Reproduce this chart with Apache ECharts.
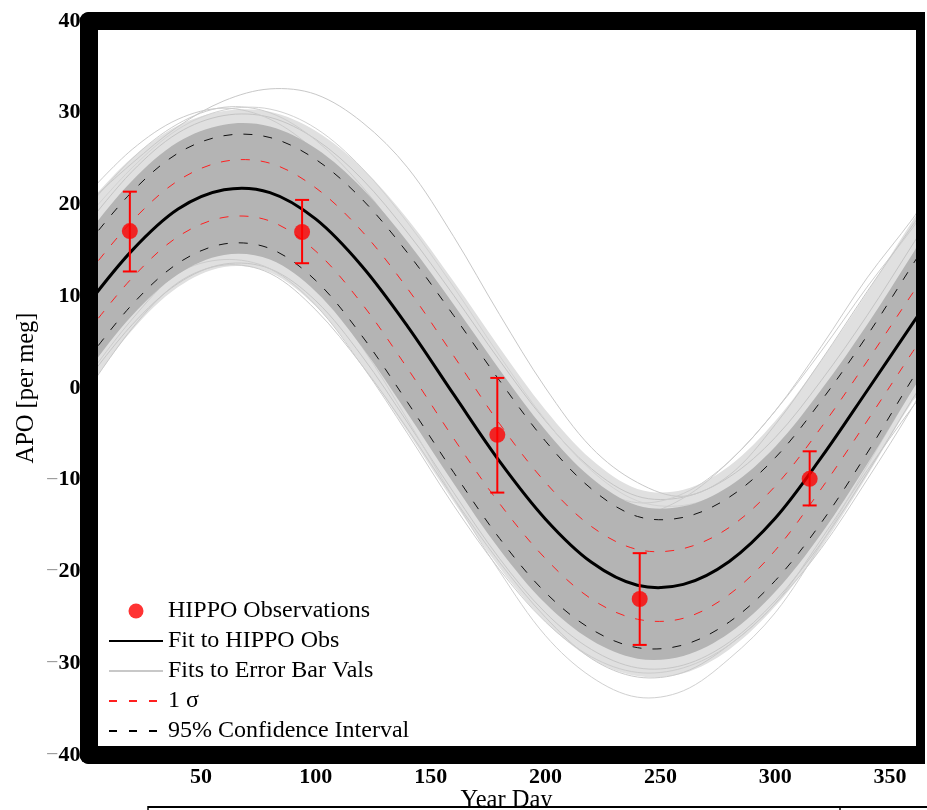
<!DOCTYPE html>
<html><head><meta charset="utf-8">
<script src="https://cdn.jsdelivr.net/npm/echarts@6/dist/echarts.min.js"></script>
<style>html,body{margin:0;padding:0;background:#fff}#c{width:927px;height:810px}</style>
</head><body><div id="c"></div>
<script>
// ---- data ----
const days = [0,20,40,60,80,100,120,140,160,180,200,220,240,260,280,300,320,340,360,365];
const fitHippo   = [8.9,15.0,19.5,21.6,21.3,18.4,13.3,6.7,-0.7,-8.0,-14.3,-19.0,-21.5,-21.4,-18.9,-14.2,-7.6,-0.3,7.1,8.9];
const sigmaUpper = [12.2,18.2,22.6,24.7,24.5,21.8,17.1,10.8,3.5,-3.9,-10.3,-15.1,-17.6,-17.5,-15.2,-10.7,-4.3,2.9,10.4,12.2];
const sigmaLower = [5.9,12.0,16.5,18.6,18.2,14.9,9.2,2.1,-5.5,-12.6,-18.6,-23.0,-25.2,-25.1,-22.5,-17.7,-11.0,-3.6,4.0,5.9];
const ci95Upper  = [15.5,21.4,25.6,27.5,27.3,24.9,20.6,14.7,7.9,0.8,-5.8,-11.0,-14.0,-14.1,-11.9,-7.6,-1.4,5.7,13.5,15.5];
const ci95Lower  = [2.9,9.1,13.6,15.7,15.2,11.7,5.7,-1.6,-9.2,-16.4,-22.3,-26.3,-28.3,-28.0,-25.5,-21.0,-14.7,-7.1,1.1,2.9];
const bandUpper  = [16.7,22.6,26.8,28.7,28.5,26.1,21.8,15.9,9.1,2.0,-4.6,-9.8,-12.8,-12.9,-10.7,-6.4,-0.2,6.9,14.7,16.7];
const bandLower  = [1.7,7.9,12.4,14.5,14.0,10.5,4.5,-2.8,-10.4,-17.6,-23.5,-27.5,-29.5,-29.2,-26.7,-22.2,-15.9,-8.3,-0.1,1.7];
const fringeUpper = [20.0,25.1,28.6,30.2,30.1,28.0,24.0,18.4,11.6,4.4,-2.4,-7.8,-11.0,-11.1,-8.5,-3.6,3.0,10.4,18.3,20.0];
const fringeLower = [-0.3,6.3,11.0,13.2,12.6,8.9,2.6,-4.8,-12.4,-19.6,-25.5,-29.5,-31.4,-31.1,-28.5,-23.8,-17.4,-9.6,-1.4,-0.3];
const errorBarFits = [
  [17.7,23.6,27.8,29.7,29.5,27.1,22.8,16.9,10.1,3.0,-3.6,-8.8,-11.8,-11.9,-9.7,-5.4,0.8,7.9,15.7,17.7],
  [19.5,25.0,28.8,30.6,30.0,27.0,22.0,15.5,8.0,0.5,-6.0,-10.5,-12.5,-11.5,-8.0,-2.5,4.0,11.0,17.5,19.5],
  [20.0,24.5,28.5,31.3,32.6,32.0,29.0,24.0,16.5,8.0,0.0,-6.5,-10.3,-11.8,-9.5,-4.0,3.0,10.5,17.8,19.5],
  [18.5,24.0,28.2,30.3,30.4,28.3,24.0,18.0,11.0,3.5,-3.5,-9.0,-12.3,-12.8,-11.0,-7.0,-1.0,6.5,14.5,18.0],
  [21.0,26.0,29.3,30.5,29.3,25.8,20.5,13.5,5.5,-2.0,-8.5,-12.5,-13.8,-12.0,-8.0,-2.5,4.5,12.0,18.5,20.5],
  [0.7,6.9,11.4,13.5,13.0,9.5,3.5,-3.8,-11.4,-18.6,-24.5,-28.5,-30.5,-30.2,-27.7,-23.2,-16.9,-9.3,-1.1,0.7],
  [-0.5,6.5,11.5,13.4,12.5,8.5,2.5,-4.5,-12.0,-19.0,-25.0,-29.5,-31.5,-31.0,-28.0,-23.5,-16.5,-9.0,-2.0,-0.5],
  [2.0,9.0,14.0,16.0,15.0,11.0,4.5,-3.5,-12.0,-20.0,-27.0,-31.5,-33.7,-33.0,-29.5,-24.5,-17.0,-8.5,0.0,2.0],
  [1.0,7.5,12.5,14.0,13.0,9.0,2.5,-5.0,-12.8,-19.8,-25.5,-29.3,-31.0,-30.5,-28.0,-23.5,-17.5,-10.0,-2.0,0.5]
];
const obsDay   = [19, 94, 179, 241, 315];
const obsValue = [17.1, 17.0, -5.1, -23.0, -9.9];
const obsLow   = [12.7, 13.6, -11.4, -28.0, -12.8];
const obsHigh  = [21.4, 20.5, 1.1, -18.0, -6.9];
const xTicks = [50,100,150,200,250,300,350];
const yTicks = [-40,-30,-20,-10,0,10,20,30,40];

// ---- styles ----
const FONT = '"Liberation Serif","Times New Roman",serif';
const SMOOTH = 0.34;
const fringeColors = ['#c4c4c4','#cdcdcd','#c8c8c8','#d2d2d2','#cbcbcb','#c6c6c6','#c9c9c9','#d0d0d0','#cccccc'];
const RED = '#ff2020';

// custom series drawing smooth curves through the library's coordinate system
function curveSeries(name, curves, styleFn, z) {
  return {
    name, type:'custom', coordinateSystem:'cartesian2d', clip:true, silent:true, z,
    data: curves.map((ys, i) => [days[0], ys[0], i]),
    renderItem: (params, api) => {
      const idx = api.value(2);
      const ys = curves[idx];
      const pts = days.map((d, i) => api.coord([d, ys[i]]));
      return {type:'polyline', shape:{points:pts, smooth:SMOOTH}, style:styleFn(idx)};
    }
  };
}
// custom series filling the region between two curves
function bandSeries(name, upper, lower, color, z) {
  return {
    name, type:'custom', coordinateSystem:'cartesian2d', clip:true, silent:true, z,
    data:[[days[0], upper[0]]],
    renderItem:(params, api) => {
      const up = days.map((d,i) => api.coord([d, upper[i]]));
      const lo = days.map((d,i) => api.coord([d, lower[i]])).reverse();
      const pts = [up[0]].concat(up, [up[up.length-1]], [lo[0]], lo, [lo[lo.length-1]]);
      return {type:'polygon', shape:{points:pts, smooth:SMOOTH}, style:{fill:color, stroke:null}};
    }
  };
}

const series = [];
// legend-only entries (style of the legend icons)
series.push({name:'Fit to HIPPO Obs', type:'line', data:[], symbol:'none', itemStyle:{color:'#000'}, lineStyle:{color:'#000', width:3}});
series.push({name:'Fits to Error Bar Vals', type:'line', data:[], symbol:'none', itemStyle:{color:'#c8c8c8'}, lineStyle:{color:'#c8c8c8', width:1}});
series.push({name:'1 σ', type:'line', data:[], symbol:'none', itemStyle:{color:RED}, lineStyle:{color:RED, width:1, type:[8,12]}});
series.push({name:'95% Confidence Interval', type:'line', data:[], symbol:'none', itemStyle:{color:'#000'}, lineStyle:{color:'#000', width:1, type:[8,12]}});

// drawn marks
series.push(bandSeries('_fringe', fringeUpper, fringeLower, '#e0e0e0', 1));
series.push(curveSeries('_fits', errorBarFits, i => ({stroke:fringeColors[i], lineWidth:1, fill:null}), 1.5));
series.push(bandSeries('_band', bandUpper, bandLower, '#b4b4b4', 2));
series.push(curveSeries('_sigma', [sigmaUpper, sigmaLower], () => ({stroke:RED, lineWidth:1, lineDash:[9,11], fill:null}), 3));
series.push(curveSeries('_ci95', [ci95Upper, ci95Lower], () => ({stroke:'#111', lineWidth:1, lineDash:[9,11], fill:null}), 3));
series.push(curveSeries('_fit', [fitHippo], () => ({stroke:'#000', lineWidth:3, fill:null}), 4));
series.push({name:'_errbar', type:'custom', z:5, silent:true,
  data: obsDay.map((d,i)=>[d, obsLow[i], obsHigh[i]]),
  renderItem:(params, api)=>{
    const x=api.value(0), lo=api.coord([x, api.value(1)]), hi=api.coord([x, api.value(2)]);
    const w=7, st={stroke:'#ff0000', lineWidth:2};
    return {type:'group', children:[
      {type:'line', shape:{x1:hi[0],y1:hi[1],x2:lo[0],y2:lo[1]}, style:st},
      {type:'line', shape:{x1:hi[0]-w,y1:hi[1],x2:hi[0]+w,y2:hi[1]}, style:st},
      {type:'line', shape:{x1:lo[0]-w,y1:lo[1],x2:lo[0]+w,y2:lo[1]}, style:st}
    ]};
  }});
series.push({name:'HIPPO Observations', type:'scatter', data:obsDay.map((d,i)=>[d, obsValue[i]]),
  symbol:'circle', symbolSize:16, itemStyle:{color:'#ff0000'}, z:6, silent:true});

const frame = {show:true, onZero:false, lineStyle:{color:'#000', width:18}};
const hideSym = {opacity:0};
const chart = echarts.init(document.getElementById('c'), null, {renderer:'canvas'});
chart.setOption({
  animation:false,
  backgroundColor:'#fff',
  grid:{left:88.5, top:21, right:2.5, bottom:55, containLabel:false, outerBoundsMode:'none'},
  legend:{
    data:[
      {name:'HIPPO Observations', icon:'circle'},
      {name:'Fit to HIPPO Obs', itemStyle:hideSym},
      {name:'Fits to Error Bar Vals', itemStyle:hideSym},
      {name:'1 σ', itemStyle:hideSym},
      {name:'95% Confidence Interval', itemStyle:hideSym}
    ],
    orient:'vertical', left:103, top:594, itemWidth:54, itemHeight:15, itemGap:6,
    selectedMode:false, z:20,
    textStyle:{fontFamily:FONT, fontSize:24, color:'#000', lineHeight:24}
  },
  xAxis:[
    {type:'value', min:1, max:365, position:'bottom', z:10, axisLine:frame, axisTick:{show:false}, splitLine:{show:false},
     axisLabel:{customValues:xTicks, margin:11, fontFamily:FONT, fontSize:22, fontWeight:'bold', color:'#000'},
     name:'Year Day', nameLocation:'middle', nameGap:33, nameMoveOverlap:false,
     nameTextStyle:{fontFamily:FONT, fontSize:24.5, color:'#000'}},
    {type:'value', min:1, max:365, position:'top', z:10, axisLine:frame, axisTick:{show:false}, splitLine:{show:false}, axisLabel:{show:false}}
  ],
  yAxis:[
    {type:'value', min:-40, max:40, interval:10, position:'left', z:10, axisLine:frame, axisTick:{show:false}, splitLine:{show:false},
     axisLabel:{customValues:yTicks, margin:8, formatter:v=> v<0 ? '{m|−}{n|'+(-v)+'}' : '{n|'+v+'}',
       rich:{m:{fontFamily:FONT, fontSize:22, color:'#9a9a9a'}, n:{fontFamily:FONT, fontSize:22, fontWeight:'bold', color:'#000'}}},
     name:'APO [per meg]', nameLocation:'middle', nameGap:49, nameMoveOverlap:false,
     nameTextStyle:{fontFamily:FONT, fontSize:24.5, color:'#000'}},
    {type:'value', min:-40, max:40, interval:10, position:'right', z:10, axisLine:frame, axisTick:{show:false}, splitLine:{show:false}, axisLabel:{show:false}}
  ],
  graphic:[
    {type:'rect', shape:{x:0, y:808, width:927, height:3}, style:{fill:'#fff'}, z:100},
    {type:'rect', shape:{x:925, y:0, width:2, height:800}, style:{fill:'#fff'}, z:100},
    {type:'line', shape:{x1:148, y1:807, x2:927, y2:807}, style:{stroke:'#000', lineWidth:2}, z:101},
    {type:'line', shape:{x1:148, y1:806, x2:148, y2:810}, style:{stroke:'#000', lineWidth:1.5}, z:101},
    {type:'line', shape:{x1:840, y1:807, x2:840, y2:810}, style:{stroke:'#000', lineWidth:1.5}, z:101}
  ],
  series: series
});
</script></body></html>
